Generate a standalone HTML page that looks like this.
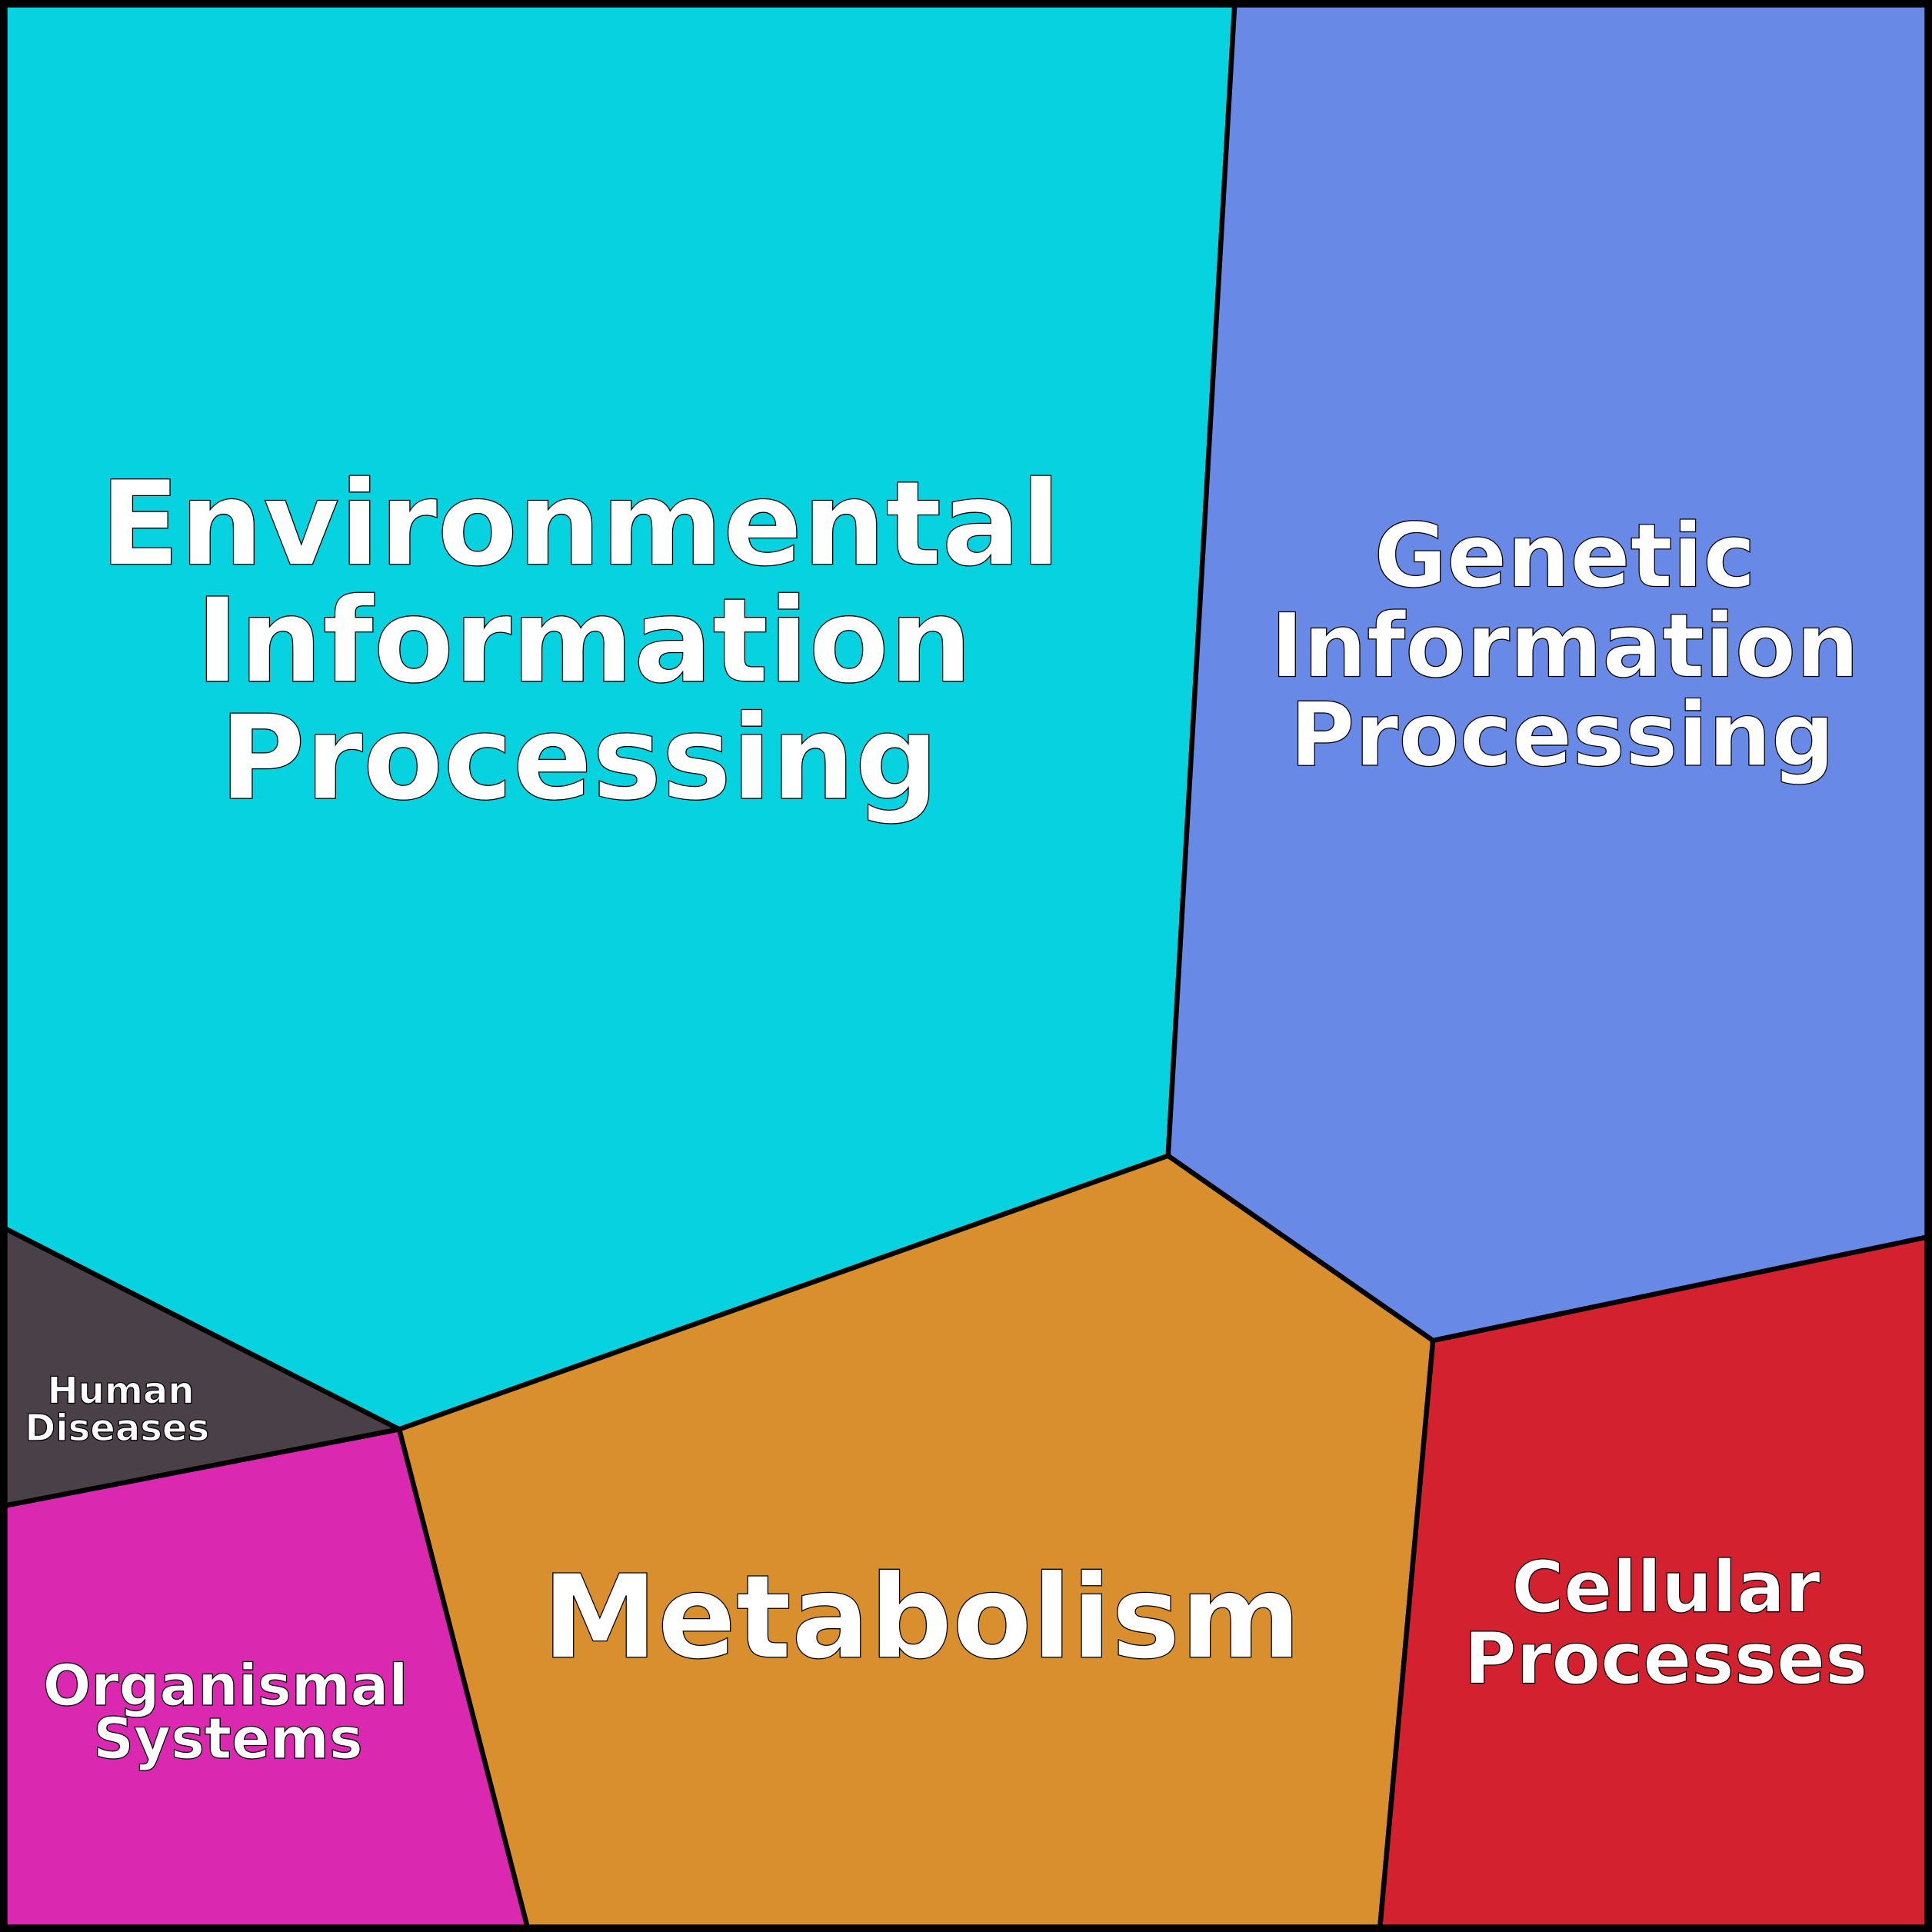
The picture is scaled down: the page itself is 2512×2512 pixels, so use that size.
<!DOCTYPE html>
<html><head><meta charset="utf-8"><style>html,body{margin:0;padding:0;background:#fff}svg{display:block}</style></head>
<body>
<svg width="2512" height="2512" viewBox="0 0 1568 1568" xmlns="http://www.w3.org/2000/svg">
<g stroke="#000" stroke-width="4" stroke-linejoin="round">
<polygon points="4,4 1002,4 948,938 324,1160 4,997" fill="#06D3DF"/>
<polygon points="1002,4 1564,4 1564,1004 1163,1088 948,938" fill="#6889E5"/>
<polygon points="948,938 1163,1088 1120,1564 428,1564 324,1160" fill="#DA8F2F"/>
<polygon points="1163,1088 1564,1004 1564,1564 1120,1564" fill="#D32130"/>
<polygon points="4,1222 324,1160 428,1564 4,1564" fill="#DA28B0"/>
<polygon points="4,997 324,1160 4,1222" fill="#4A4047"/>
</g>
<rect x="3" y="3" width="1562" height="1562" fill="none" stroke="#000" stroke-width="6"/>
<g font-family="'DejaVu Sans','Liberation Sans',sans-serif" font-weight="bold" fill="#fff" stroke="#000" stroke-width="0.8" text-anchor="middle">
<text font-size="95" x="471" y="458">Environmental</text>
<text font-size="95" x="474" y="553">Information</text>
<text font-size="95" x="470" y="648">Processing</text>
<text font-size="72" x="1270" y="476">Genetic</text>
<text font-size="72" x="1270" y="549">Information</text>
<text font-size="72" x="1268" y="621">Processing</text>
<text font-size="94" x="748" y="1345">Metabolism</text>
<text font-size="58" x="1352" y="1308">Cellular</text>
<text font-size="58" x="1352" y="1366">Processes</text>
<text font-size="46" x="183" y="1384">Organismal</text>
<text font-size="46" x="185" y="1427">Systems</text>
<text font-size="30" x="98" y="1139">Human</text>
<text font-size="30" x="95" y="1169">Diseases</text>
</g>
</svg>
</body></html>
